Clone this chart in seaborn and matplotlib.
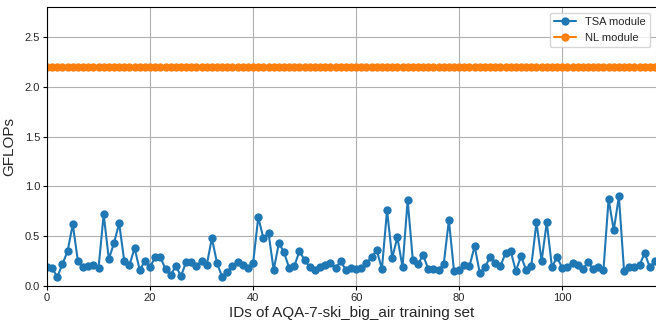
import numpy as np
import pandas as pd
import matplotlib
matplotlib.use("Agg")
import matplotlib.pyplot as plt
import seaborn as sns

tsa_values = [
    0.19, 0.18, 0.09, 0.22, 0.35, 0.62, 0.25, 0.19, 0.20, 0.21,
    0.18, 0.72, 0.27, 0.43, 0.63, 0.25, 0.21, 0.38, 0.16, 0.25,
    0.19, 0.29, 0.29, 0.17, 0.11, 0.20, 0.10, 0.24, 0.24, 0.20,
    0.25, 0.21, 0.48, 0.23, 0.09, 0.14, 0.20, 0.24, 0.21, 0.18,
    0.23, 0.69, 0.48, 0.53, 0.16, 0.43, 0.34, 0.18, 0.20, 0.35,
    0.26, 0.19, 0.16, 0.19, 0.21, 0.23, 0.18, 0.25, 0.16, 0.18,
    0.17, 0.18, 0.23, 0.29, 0.36, 0.17, 0.76, 0.28, 0.49, 0.19,
    0.86, 0.26, 0.22, 0.31, 0.17, 0.17, 0.16, 0.22, 0.66, 0.15,
    0.16, 0.21, 0.20, 0.40, 0.13, 0.19, 0.29, 0.23, 0.20, 0.33,
    0.35, 0.15, 0.30, 0.16, 0.20, 0.64, 0.25, 0.64, 0.19, 0.29,
    0.18, 0.19, 0.23, 0.21, 0.17, 0.24, 0.17, 0.19, 0.16, 0.87,
    0.56, 0.90, 0.15, 0.19, 0.19, 0.21, 0.33, 0.19, 0.25,
]
nl_value = 2.2
ids = list(range(len(tsa_values)))
nl_values = [nl_value] * len(ids)

series_names = ["TSA module", "NL module"]
x_label = "IDs of AQA-7-ski_big_air training set"
y_label = "GFLOPs"

df = pd.DataFrame({
    "id": ids * 2,
    "gflops": tsa_values + nl_values,
    "series": [series_names[0]] * len(ids) + [series_names[1]] * len(ids),
})

sns.set_style("whitegrid", {
    "axes.edgecolor": "black",
    "grid.color": "#b0b0b0",
    "xtick.bottom": True,
    "ytick.left": True,
})
plt.rcParams["font.family"] = ["Liberation Sans", "DejaVu Sans"]

fig = plt.figure(figsize=(6.56, 3.25), dpi=100)
ax = fig.add_axes([47 / 656, 39 / 325, 1 - 47 / 656, 279 / 325])

sns.lineplot(data=df, x="id", y="gflops", hue="series",
             palette=["#1f77b4", "#ff7f0e"], marker="o", markersize=6,
             markeredgewidth=0, linewidth=1.5, ax=ax)

ax.set_xlim(0, 118.2)
ax.set_ylim(0, 2.8)
ax.set_xticks([0, 20, 40, 60, 80, 100])
ax.set_yticks([0.0, 0.5, 1.0, 1.5, 2.0, 2.5])
ax.tick_params(axis="both", labelsize=8, length=3, width=0.8, color="black", pad=2)
ax.set_xlabel(x_label, fontsize=11, labelpad=2)
ax.set_ylabel(y_label, fontsize=11, labelpad=6)
ax.spines["right"].set_visible(False)
ax.spines["top"].set_linewidth(0.8)
ax.spines["left"].set_linewidth(0.8)
ax.spines["bottom"].set_linewidth(0.8)
ax.grid(True, color="#b0b0b0", linewidth=0.8)

leg = ax.legend(loc="upper right", fontsize=8, frameon=True, borderaxespad=0.5)
leg.get_frame().set_edgecolor("#cccccc")

fig.savefig("out.png", dpi=100)
